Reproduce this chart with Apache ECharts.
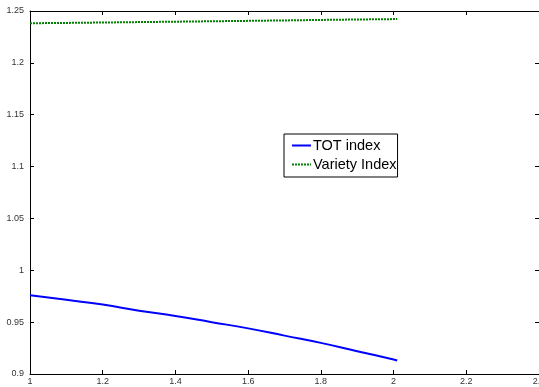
<!DOCTYPE html>
<html>
<head>
<meta charset="utf-8">
<script src="https://cdn.jsdelivr.net/npm/echarts@6/dist/echarts.min.js"></script>
<style>
  html, body { margin: 0; padding: 0; background: #fff; }
  #chart { width: 539px; height: 387px; }
</style>
</head>
<body>
<div id="chart"></div>
<script>
// values
const xValues = [1.0, 1.1, 1.2, 1.3, 1.4, 1.5, 1.6, 1.7, 1.8, 1.9, 2.0, 2.01];
const totIndex = [0.976, 0.9715, 0.967, 0.961, 0.956, 0.950, 0.944, 0.937, 0.930, 0.922, 0.914, 0.913];
const varietyIndex = [1.2382, 1.2385, 1.2389, 1.2393, 1.2397, 1.2401, 1.2405, 1.2409, 1.2414, 1.2418, 1.2422, 1.2423];
const seriesNames = ["TOT index", "Variety Index"];

const chart = echarts.init(document.getElementById("chart"));

const axisCommon = {
  type: "value",
  axisLine: { show: true, onZero: false, lineStyle: { color: "#000", width: 1 } },
  axisTick: { show: true, inside: true, length: 4, lineStyle: { color: "#000" } },
  splitLine: { show: false }
};

const option = {
  animation: false,
  backgroundColor: "#fff",
  textStyle: { fontFamily: "Liberation Sans, Arial, sans-serif" },
  grid: { left: 30, top: 11, right: 0, bottom: 13, outerBoundsMode: "none", containLabel: false },
  legend: {
    data: seriesNames,
    orient: "vertical",
    left: 284,
    top: 134,
    itemWidth: 19,
    itemHeight: 8,
    itemGap: 4,
    padding: [4, 1, 5, 7],
    borderColor: "#000",
    borderWidth: 1,
    backgroundColor: "#fff",
    itemStyle: { opacity: 0 },
    textStyle: { fontSize: 14.5, color: "#000", padding: [0, 0, 0, -3] }
  },
  xAxis: [
    Object.assign({}, axisCommon, {
      position: "bottom",
      min: 1, max: 2.4, interval: 0.2,
      axisLabel: { fontSize: 9, color: "#333", margin: 3 }
    }),
    Object.assign({}, axisCommon, {
      position: "top",
      min: 1, max: 2.4, interval: 0.2,
      axisLabel: { show: false }
    })
  ],
  yAxis: [
    Object.assign({}, axisCommon, {
      position: "left",
      min: 0.9, max: 1.25, interval: 0.05,
      axisLabel: { fontSize: 9, color: "#333", margin: 6 }
    }),
    Object.assign({}, axisCommon, {
      position: "right",
      min: 0.9, max: 1.25, interval: 0.05,
      axisLabel: { show: false }
    })
  ],
  series: [
    {
      name: seriesNames[0],
      type: "line",
      symbol: "none",
      smooth: true,
      data: xValues.map((x, i) => [x, totIndex[i]]),
      lineStyle: { color: "#0000ff", width: 2 },
      itemStyle: { color: "#0000ff" }
    },
    {
      name: seriesNames[1],
      type: "line",
      symbol: "none",
      data: xValues.map((x, i) => [x, varietyIndex[i]]),
      lineStyle: { color: "#008000", width: 2, type: [2, 1] },
      itemStyle: { color: "#008000" }
    }
  ]
};

chart.setOption(option);
</script>
</body>
</html>
